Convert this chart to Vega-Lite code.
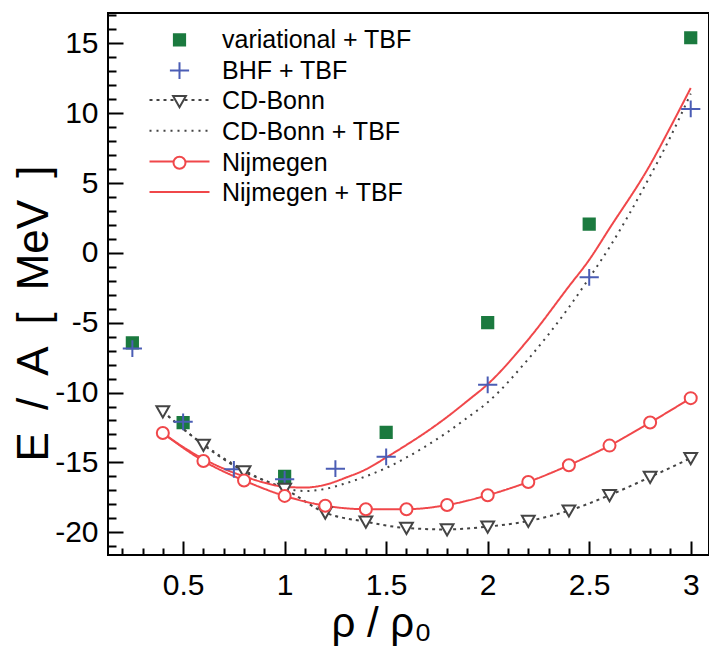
{
  "$schema": "https://vega.github.io/schema/vega-lite/v6.json",
  "width": 601,
  "height": 542,
  "autosize": {"type": "none"},
  "padding": {"left": 108, "top": 13, "right": 0, "bottom": 92},
  "background": "white",
  "config": {
    "view": {"stroke": "black", "strokeWidth": 2},
    "font": "Liberation Sans"
  },
  "data": {
    "values": [
      {"s": "variational + TBF", "x": 0.25, "y": -6.45},
      {"s": "variational + TBF", "x": 0.5, "y": -12.15},
      {"s": "variational + TBF", "x": 1.0, "y": -16.0},
      {"s": "variational + TBF", "x": 1.5, "y": -12.85},
      {"s": "variational + TBF", "x": 2.0, "y": -5.0},
      {"s": "variational + TBF", "x": 2.5, "y": 2.05},
      {"s": "variational + TBF", "x": 3.0, "y": 15.4},
      {"s": "BHF + TBF", "x": 0.25, "y": -6.85},
      {"s": "BHF + TBF", "x": 0.5, "y": -12.1},
      {"s": "BHF + TBF", "x": 0.75, "y": -15.5},
      {"s": "BHF + TBF", "x": 1.0, "y": -16.2},
      {"s": "BHF + TBF", "x": 1.25, "y": -15.45},
      {"s": "BHF + TBF", "x": 1.5, "y": -14.6},
      {"s": "BHF + TBF", "x": 2.0, "y": -9.45},
      {"s": "BHF + TBF", "x": 2.5, "y": -1.75},
      {"s": "BHF + TBF", "x": 3.0, "y": 10.3},
      {"s": "CD-Bonn", "x": 0.4, "y": -11.35},
      {"s": "CD-Bonn", "x": 0.6, "y": -13.75},
      {"s": "CD-Bonn", "x": 0.8, "y": -15.65},
      {"s": "CD-Bonn", "x": 1.0, "y": -16.9},
      {"s": "CD-Bonn", "x": 1.2, "y": -18.6},
      {"s": "CD-Bonn", "x": 1.4, "y": -19.25},
      {"s": "CD-Bonn", "x": 1.6, "y": -19.7},
      {"s": "CD-Bonn", "x": 1.8, "y": -19.8},
      {"s": "CD-Bonn", "x": 2.0, "y": -19.6},
      {"s": "CD-Bonn", "x": 2.2, "y": -19.2},
      {"s": "CD-Bonn", "x": 2.4, "y": -18.45},
      {"s": "CD-Bonn", "x": 2.6, "y": -17.35},
      {"s": "CD-Bonn", "x": 2.8, "y": -16.05},
      {"s": "CD-Bonn", "x": 3.0, "y": -14.7},
      {"s": "CD-Bonn + TBF", "x": 0.4, "y": -11.35},
      {"s": "CD-Bonn + TBF", "x": 0.5, "y": -12.6},
      {"s": "CD-Bonn + TBF", "x": 0.6, "y": -13.7},
      {"s": "CD-Bonn + TBF", "x": 0.7, "y": -14.7},
      {"s": "CD-Bonn + TBF", "x": 0.8, "y": -15.55},
      {"s": "CD-Bonn + TBF", "x": 0.9, "y": -16.3},
      {"s": "CD-Bonn + TBF", "x": 1.0, "y": -16.85},
      {"s": "CD-Bonn + TBF", "x": 1.1, "y": -17.05},
      {"s": "CD-Bonn + TBF", "x": 1.2, "y": -16.9},
      {"s": "CD-Bonn + TBF", "x": 1.3, "y": -16.5},
      {"s": "CD-Bonn + TBF", "x": 1.4, "y": -16.0},
      {"s": "CD-Bonn + TBF", "x": 1.5, "y": -15.4},
      {"s": "CD-Bonn + TBF", "x": 1.6, "y": -14.65},
      {"s": "CD-Bonn + TBF", "x": 1.7, "y": -13.8},
      {"s": "CD-Bonn + TBF", "x": 1.8, "y": -12.85},
      {"s": "CD-Bonn + TBF", "x": 1.9, "y": -11.8},
      {"s": "CD-Bonn + TBF", "x": 2.0, "y": -10.7},
      {"s": "CD-Bonn + TBF", "x": 2.2, "y": -7.6},
      {"s": "CD-Bonn + TBF", "x": 2.4, "y": -3.9},
      {"s": "CD-Bonn + TBF", "x": 2.5, "y": -1.8},
      {"s": "CD-Bonn + TBF", "x": 2.6, "y": 0.4},
      {"s": "CD-Bonn + TBF", "x": 2.8, "y": 5.5},
      {"s": "CD-Bonn + TBF", "x": 2.9, "y": 8.3},
      {"s": "CD-Bonn + TBF", "x": 3.0, "y": 11.4},
      {"s": "Nijmegen", "x": 0.4, "y": -12.9},
      {"s": "Nijmegen", "x": 0.6, "y": -14.9},
      {"s": "Nijmegen", "x": 0.8, "y": -16.3},
      {"s": "Nijmegen", "x": 1.0, "y": -17.4},
      {"s": "Nijmegen", "x": 1.2, "y": -18.1},
      {"s": "Nijmegen", "x": 1.4, "y": -18.35},
      {"s": "Nijmegen", "x": 1.6, "y": -18.35},
      {"s": "Nijmegen", "x": 1.8, "y": -18.05},
      {"s": "Nijmegen", "x": 2.0, "y": -17.35},
      {"s": "Nijmegen", "x": 2.2, "y": -16.4},
      {"s": "Nijmegen", "x": 2.4, "y": -15.2},
      {"s": "Nijmegen", "x": 2.6, "y": -13.8},
      {"s": "Nijmegen", "x": 2.8, "y": -12.15},
      {"s": "Nijmegen", "x": 3.0, "y": -10.4},
      {"s": "Nijmegen + TBF", "x": 0.4, "y": -12.9},
      {"s": "Nijmegen + TBF", "x": 0.5, "y": -13.9},
      {"s": "Nijmegen + TBF", "x": 0.6, "y": -14.75},
      {"s": "Nijmegen + TBF", "x": 0.7, "y": -15.45},
      {"s": "Nijmegen + TBF", "x": 0.8, "y": -16.0},
      {"s": "Nijmegen + TBF", "x": 0.9, "y": -16.45},
      {"s": "Nijmegen + TBF", "x": 1.0, "y": -16.75},
      {"s": "Nijmegen + TBF", "x": 1.1, "y": -16.8},
      {"s": "Nijmegen + TBF", "x": 1.2, "y": -16.6},
      {"s": "Nijmegen + TBF", "x": 1.3, "y": -16.1},
      {"s": "Nijmegen + TBF", "x": 1.4, "y": -15.5},
      {"s": "Nijmegen + TBF", "x": 1.5, "y": -14.65},
      {"s": "Nijmegen + TBF", "x": 1.6, "y": -13.75},
      {"s": "Nijmegen + TBF", "x": 1.7, "y": -12.8},
      {"s": "Nijmegen + TBF", "x": 1.8, "y": -11.75},
      {"s": "Nijmegen + TBF", "x": 1.9, "y": -10.6},
      {"s": "Nijmegen + TBF", "x": 2.0, "y": -9.4},
      {"s": "Nijmegen + TBF", "x": 2.2, "y": -6.2},
      {"s": "Nijmegen + TBF", "x": 2.4, "y": -2.4},
      {"s": "Nijmegen + TBF", "x": 2.5, "y": -0.5},
      {"s": "Nijmegen + TBF", "x": 2.6, "y": 1.75},
      {"s": "Nijmegen + TBF", "x": 2.8, "y": 6.3},
      {"s": "Nijmegen + TBF", "x": 2.9, "y": 9.0},
      {"s": "Nijmegen + TBF", "x": 3.0, "y": 11.8}
    ]
  },
  "resolve": {"axis": {"x": "independent", "y": "independent"}},
  "layer": [
    {
      "transform": [{"filter": {"field": "s", "oneOf": ["CD-Bonn", "CD-Bonn + TBF", "Nijmegen", "Nijmegen + TBF"]}}],
      "mark": {"type": "line", "interpolate": "monotone", "strokeWidth": 2},
      "encoding": {
        "x": {
          "field": "x", "type": "quantitative",
          "scale": {"domain": [0.13, 3.09], "nice": false, "zero": false},
          "axis": {
            "orient": "bottom", "values": [0.5, 1, 1.5, 2, 2.5, 3],
            "labelExpr": "toString(datum.value)",
            "domain": false, "grid": false,
            "tickSize": -14, "tickWidth": 2, "tickColor": "black",
            "labelFontSize": 30, "labelFont": "Liberation Sans", "labelColor": "black",
            "labelPadding": 29, "labelBaseline": "top",
            "title": "ρ / ρ₀", "titleFontSize": 42, "titleFont": "Liberation Sans",
            "titleFontWeight": "normal", "titleColor": "black",
            "titleX": 273, "titleY": 68, "titleAlign": "center", "titleBaseline": "middle"
          }
        },
        "y": {
          "field": "y", "type": "quantitative",
          "scale": {"domain": [-21.63, 17.17], "nice": false, "zero": false},
          "axis": {
            "orient": "left", "values": [-20, -15, -10, -5, 0, 5, 10, 15],
            "labelExpr": "toString(datum.value)",
            "domain": false, "grid": false,
            "tickSize": -15, "tickWidth": 2, "tickColor": "black",
            "labelFontSize": 30, "labelFont": "Liberation Sans", "labelColor": "black",
            "labelPadding": 25,
            "title": "E\u2002/\u2002A\u2002[\u2002MeV\u2002]", "titleFontSize": 44, "titleFont": "Liberation Sans",
            "titleFontWeight": "normal", "titleColor": "black",
            "titleX": -74, "titleY": 300, "titleAngle": -90, "titleAlign": "center", "titleBaseline": "middle"
          }
        },
        "stroke": {
          "field": "s", "type": "nominal",
          "scale": {
            "domain": ["CD-Bonn", "CD-Bonn + TBF", "Nijmegen", "Nijmegen + TBF"],
            "range": ["#444444", "#444444", "#f0474a", "#f0474a"]
          },
          "legend": {
            "orient": "none", "legendX": 59, "legendY": 74.5,
            "title": null, "padding": 0,
            "symbolType": "M-3.75,0H3.75", "symbolSize": 256, "symbolStrokeWidth": 2,
            "symbolStrokeColor": "black",
            "labelFontSize": 25, "labelOpacity": 0, "labelLimit": 0, "labelOffset": 30, "rowPadding": 4.7
          }
        },
        "strokeDash": {
          "field": "s", "type": "nominal",
          "scale": {
            "domain": ["CD-Bonn", "CD-Bonn + TBF", "Nijmegen", "Nijmegen + TBF"],
            "range": [[3, 4], [2, 5], [1, 0], [1, 0]]
          },
          "legend": {
            "orient": "none", "legendX": 59, "legendY": 74.5,
            "title": null, "padding": 0,
            "symbolType": "M-3.75,0H3.75", "symbolSize": 256, "symbolStrokeWidth": 2,
            "symbolStrokeColor": "black",
            "labelFontSize": 25, "labelOpacity": 0, "labelLimit": 0, "labelOffset": 30, "rowPadding": 4.7
          }
        }
      }
    },
    {
      "transform": [{"filter": {"field": "s", "oneOf": ["variational + TBF", "BHF + TBF", "CD-Bonn", "Nijmegen"]}}],
      "mark": {"type": "point", "size": 256, "strokeWidth": 2, "opacity": 1},
      "encoding": {
        "x": {
          "field": "x", "type": "quantitative",
          "axis": {
            "orient": "bottom",
            "values": [0.2, 0.3, 0.4, 0.6, 0.7, 0.8, 0.9, 1.1, 1.2, 1.3, 1.4, 1.6, 1.7, 1.8, 1.9, 2.1, 2.2, 2.3, 2.4, 2.6, 2.7, 2.8, 2.9, 3.1],
            "labels": false, "domain": false, "grid": false, "title": null,
            "tickSize": -7, "tickWidth": 2, "tickColor": "black"
          }
        },
        "y": {
          "field": "y", "type": "quantitative",
          "axis": {
            "orient": "left",
            "values": [-21, -19, -18, -17, -16, -14, -13, -12, -11, -9, -8, -7, -6, -4, -3, -2, -1, 1, 2, 3, 4, 6, 7, 8, 9, 11, 12, 13, 14, 16, 17],
            "labels": false, "domain": false, "grid": false, "title": null,
            "tickSize": -8, "tickWidth": 2, "tickColor": "black"
          }
        },
        "color": {
          "field": "s", "type": "nominal",
          "scale": {
            "domain": ["variational + TBF", "BHF + TBF", "CD-Bonn", "CD-Bonn + TBF", "Nijmegen", "Nijmegen + TBF"],
            "range": ["#1b7a3f", "#4b5db5", "#444444", "#444444", "#f0474a", "#f0474a"]
          },
          "legend": {
            "orient": "none", "legendX": 59, "legendY": 14.4,
            "title": null, "padding": 0,
            "symbolSize": 256, "symbolStrokeWidth": 2,
            "symbolFillColor": "white", "symbolStrokeColor": "black",
            "labelFontSize": 25, "labelFont": "Liberation Sans", "labelColor": "black", "labelLimit": 0,
            "labelOffset": 30, "rowPadding": 4.7
          }
        },
        "fill": {
          "field": "s", "type": "nominal",
          "scale": {
            "domain": ["variational + TBF", "BHF + TBF", "CD-Bonn", "CD-Bonn + TBF", "Nijmegen", "Nijmegen + TBF"],
            "range": ["#1b7a3f", "transparent", "white", "white", "white", "white"]
          },
          "legend": {
            "orient": "none", "legendX": 59, "legendY": 14.4,
            "title": null, "padding": 0,
            "symbolSize": 256, "symbolStrokeWidth": 2,
            "symbolFillColor": "white", "symbolStrokeColor": "black",
            "labelFontSize": 25, "labelFont": "Liberation Sans", "labelColor": "black", "labelLimit": 0,
            "labelOffset": 30, "rowPadding": 4.7
          }
        },
        "shape": {
          "field": "s", "type": "nominal",
          "scale": {
            "domain": ["variational + TBF", "BHF + TBF", "CD-Bonn", "CD-Bonn + TBF", "Nijmegen", "Nijmegen + TBF"],
            "range": [
              "M-0.7,-0.7H0.7V0.7H-0.7Z",
              "M-1.2,0H1.2M0,-1.05V1.05",
              "M-0.8,-0.65L0.8,-0.65L0,0.75Z",
              "M0,0",
              "M-0.75,0A0.75,0.75 0 1 1 0.75,0A0.75,0.75 0 1 1 -0.75,0Z",
              "M0,0"
            ]
          },
          "legend": {
            "orient": "none", "legendX": 59, "legendY": 14.4,
            "title": null, "padding": 0,
            "symbolSize": 256, "symbolStrokeWidth": 2,
            "symbolFillColor": "white", "symbolStrokeColor": "black",
            "labelFontSize": 25, "labelFont": "Liberation Sans", "labelColor": "black", "labelLimit": 0,
            "labelOffset": 30, "rowPadding": 4.7
          }
        }
      }
    }
  ]
}
